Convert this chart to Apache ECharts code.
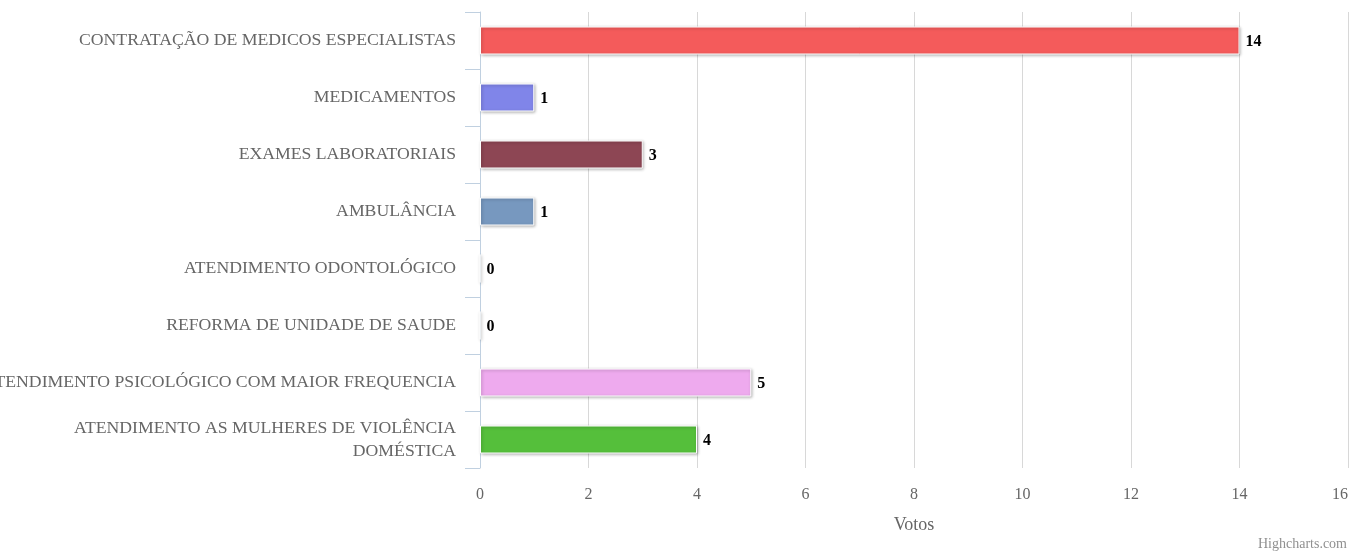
<!DOCTYPE html>
<html>
<head>
<meta charset="utf-8">
<script src="https://cdn.jsdelivr.net/npm/echarts@6/dist/echarts.min.js"></script>
<style>
html,body{margin:0;padding:0;background:#fff;}
#chart{width:1351px;height:552px;}
</style>
</head>
<body>
<div id="chart"></div>
<script>
const categories = [
  "CONTRATAÇÃO DE MEDICOS ESPECIALISTAS",
  "MEDICAMENTOS",
  "EXAMES LABORATORIAIS",
  "AMBULÂNCIA",
  "ATENDIMENTO ODONTOLÓGICO",
  "REFORMA DE UNIDADE DE SAUDE",
  "ATENDIMENTO PSICOLÓGICO COM MAIOR FREQUENCIA",
  "ATENDIMENTO AS MULHERES DE VIOLÊNCIA DOMÉSTICA"
];
const votes = [14, 1, 3, 1, 0, 0, 5, 4];
const barColors = ["#F45B5B", "#8085E9", "#8D4654", "#7798BF", "#AAEEEE", "#FF0066", "#EEAAEE", "#55BF3B"];
const axisName = "Votos";
const creditText = "Highcharts.com";

const FONT = '"Liberation Serif", "Times New Roman", serif';
const chart = echarts.init(document.getElementById('chart'), null, {renderer: 'canvas'});
chart.setOption({
  animation: false,
  backgroundColor: '#ffffff',
  grid: {left: 480, right: 3, top: 12, bottom: 84, containLabel: false, outerBoundsMode: 'none'},
  xAxis: {
    type: 'value', min: 0, max: 16, interval: 2,
    name: axisName, nameLocation: 'middle', nameGap: 48,
    nameTextStyle: {color: '#666666', fontSize: 18, fontFamily: FONT},
    axisLine: {show: false}, axisTick: {show: false},
    axisLabel: {color: '#666666', fontSize: 16, fontFamily: FONT, margin: 19, alignMaxLabel: 'right'},
    splitLine: {show: true, lineStyle: {color: '#D8D8D8', width: 1}}
  },
  yAxis: {
    type: 'category', data: categories, inverse: true,
    axisLine: {show: true, lineStyle: {color: '#C0D0E0', width: 1}},
    axisTick: {show: true, length: 15, lineStyle: {color: '#C0D0E0', width: 1}},
    axisLabel: {
      color: '#666666', fontSize: 17.7, fontFamily: FONT, margin: 24, lineHeight: 23,
      formatter: function (v) {
        if (v === "ATENDIMENTO AS MULHERES DE VIOLÊNCIA DOMÉSTICA") return "ATENDIMENTO AS MULHERES DE VIOLÊNCIA\nDOMÉSTICA";
        return v;
      }
    },
    splitLine: {show: false}
  },
  series: [{
    type: 'bar',
    data: votes.map((v, i) => ({value: v, itemStyle: {color: barColors[i]}})),
    barWidth: 28,
    itemStyle: {
      borderColor: '#ffffff', borderWidth: 1,
      shadowColor: 'rgba(0,0,0,0.3)', shadowBlur: 3, shadowOffsetX: 1, shadowOffsetY: 1
    },
    label: {
      show: true, position: 'right', distance: 6, offset: [0, 1],
      color: '#000000', fontSize: 16, fontWeight: 'bold', fontFamily: FONT
    }
  }],
  graphic: [{
    type: 'text', right: 4, bottom: 1,
    style: {text: creditText, fill: '#909090', fontSize: 14, fontFamily: FONT, textAlign: 'right'}
  }]
});
</script>
</body>
</html>
